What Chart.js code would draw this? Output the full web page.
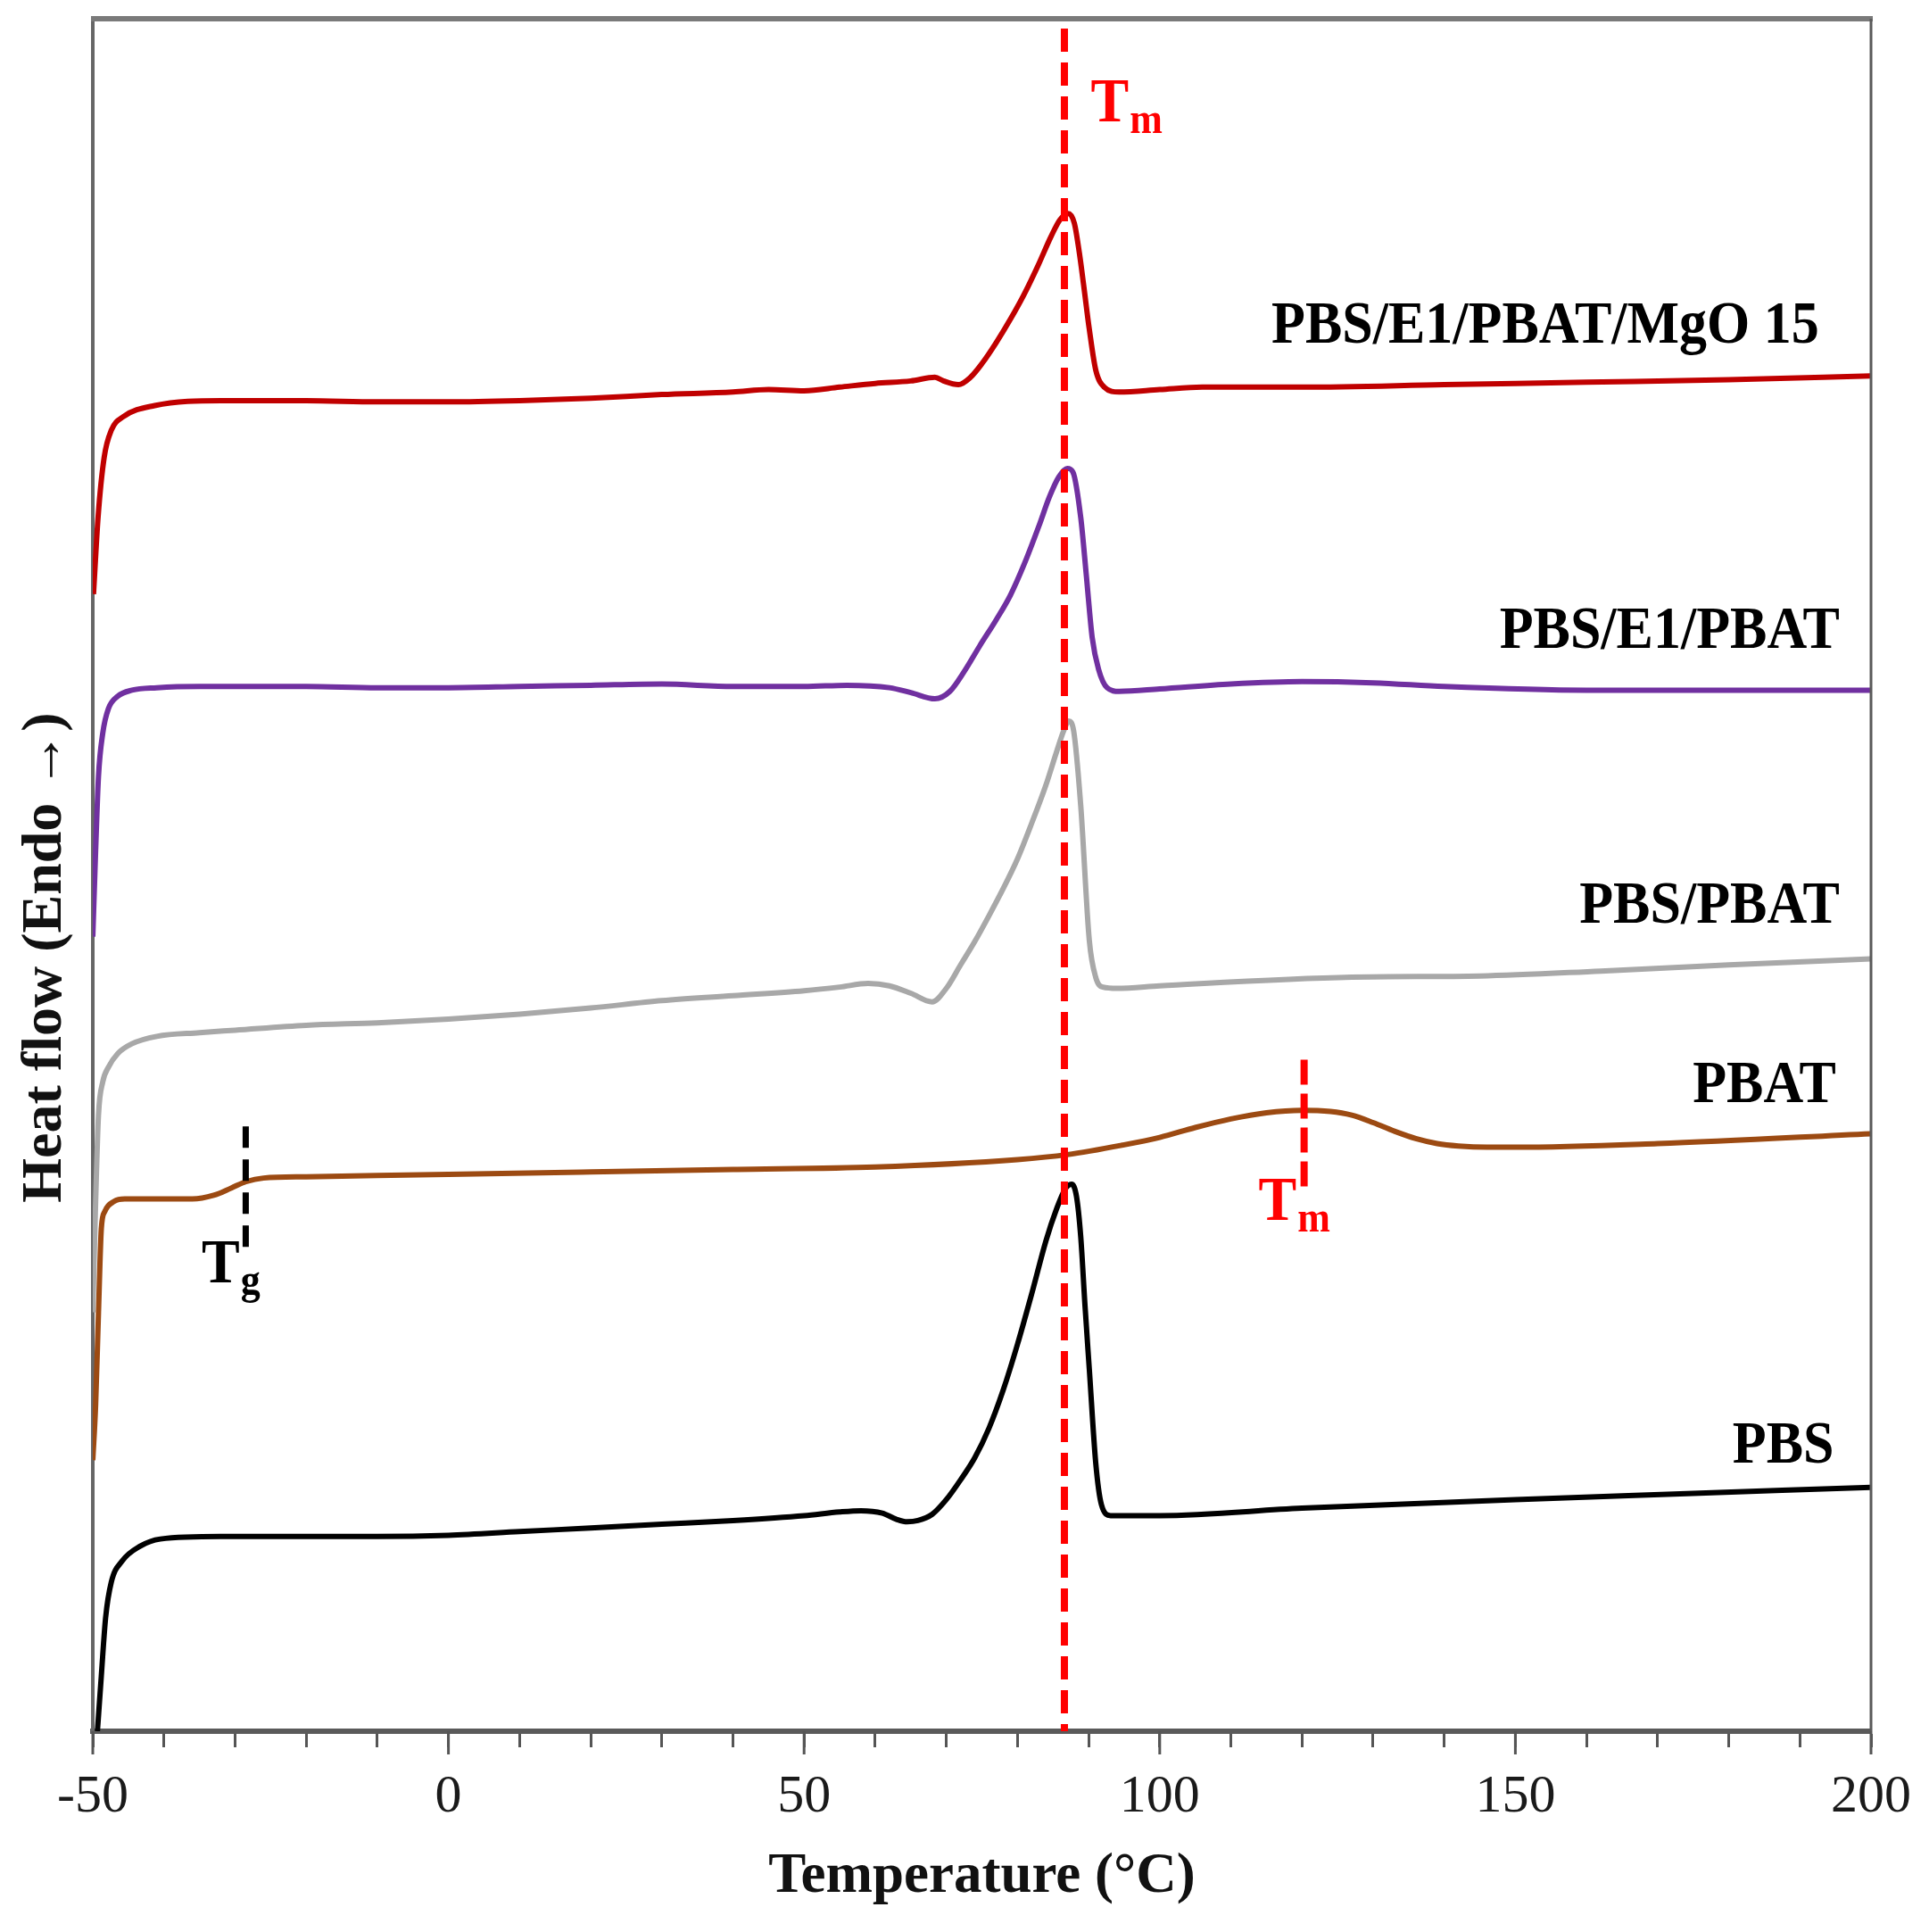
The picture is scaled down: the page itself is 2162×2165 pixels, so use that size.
<!DOCTYPE html>
<html>
<head>
<meta charset="utf-8">
<script src="https://cdn.jsdelivr.net/npm/chart.js@4.4.1/dist/chart.umd.min.js"></script>
<style>
  html, body { margin: 0; padding: 0; background: #ffffff; }
  canvas { display: block; }
</style>
</head>
<body>
<canvas id="dscChart" width="2162" height="2165"></canvas>
<script>
// DSC heating curves, heat flow in arbitrary units (curves shifted vertically)
const seriesNames = ['PBS', 'PBAT', 'PBS/PBAT', 'PBS/E1/PBAT', 'PBS/E1/PBAT/MgO 15'];
const seriesColors = ['#000000', '#9c4a12', '#a8a8a8', '#7030a0', '#c00000'];

const pbsTemp = [-49.35, -48.8, -48.2, -47.4, -45.9, -43.4, -40.5, -32, -20, -10, 0, 10, 20, 30, 40, 50, 55, 58, 61, 63, 64.5, 66, 68, 70, 72, 74, 76, 78, 80, 82, 84, 85.5, 86.7, 87.6, 88.3, 88.9, 89.5, 90.1, 91, 91.8, 93.1, 96, 100, 120, 150, 175, 200];
const pbsHeat = [0, 45, 92, 121, 138, 150, 156, 158, 158, 158, 159, 162, 165, 168, 171, 175, 178, 179, 177, 172, 170, 171, 176, 188, 204, 222, 246, 277, 314, 355, 398, 424, 440, 444, 434, 401, 345, 294, 218, 184, 175, 175, 175, 181, 188, 193, 198];

const pbatTemp = [-50, -49.6, -49.2, -48.8, -48.3, -47, -45.5, -40, -36, -33, -30.5, -28.5, -26, -20, -10, 0, 20, 40, 60, 80, 87, 95, 100, 105, 110, 115, 120, 124, 127, 130, 133, 136, 139, 142, 146, 150, 170, 200];
const pbatHeat = [220, 265, 340, 408, 422, 430, 432, 432, 432, 435, 441, 446, 449, 450, 451, 452, 454, 456, 458, 464, 468, 476, 482, 490, 497, 502, 504, 503, 500, 494, 487, 481, 477, 475, 474, 474, 477, 485];

const pbsPbatTemp = [-50, -49.6, -49.2, -48.6, -47.8, -46.5, -44.5, -41, -35, -30, -20, -10, 0, 10, 20, 30, 40, 50, 55, 59, 62, 65, 68, 70, 72, 74, 76, 78, 80, 82, 84, 85.5, 86.5, 87.2, 87.9, 88.9, 90.1, 91, 92, 94, 100, 127, 145, 162, 180, 200];
const pbsPbatHeat = [340, 430, 500, 527, 539, 550, 558, 564, 567, 569, 573, 575, 578, 582, 587, 593, 597, 601, 604, 607, 605, 599, 592, 603, 622, 641, 662, 684, 708, 737, 768, 795, 812, 820, 812, 751, 642, 612, 604, 603, 605, 612, 613, 617, 622, 627];

const e1Temp = [-50, -49.6, -49.2, -48.6, -47.8, -46.5, -44.5, -41, -35, -20, -10, 0, 10, 20, 30, 40, 50, 56, 62, 65, 68.4, 70.5, 72.5, 74.7, 77, 79, 81, 83, 84.5, 85.8, 87, 87.8, 88.9, 89.7, 90.5, 91.4, 92.6, 94.3, 100, 110, 120, 130, 140, 160, 200];
const e1Heat = [645, 715, 775, 810, 830, 840, 845, 847, 848, 848, 847, 847, 848, 849, 850, 848, 848, 849, 847, 843, 838, 844, 860, 881, 902, 922, 948, 978, 1002, 1018, 1025, 1022, 985, 937, 888, 862, 847, 844, 846, 850, 852, 851, 848, 845, 845];

const mgoTemp = [-49.9, -49.25, -48.4, -47.4, -45.7, -41.3, -32, -20, -10, 0, 10, 20, 30, 40, 45, 50, 55, 60, 65, 68.4, 69.6, 71.7, 73.4, 75, 77, 79, 81, 83, 84.7, 86, 87.1, 88, 88.7, 89.3, 90.1, 91, 92.2, 94.3, 100, 106, 120, 140, 160, 180, 200];
const mgoHeat = [923, 986, 1034, 1056, 1067, 1076, 1080, 1080, 1079, 1079, 1080, 1082, 1085, 1087, 1089, 1088, 1091, 1094, 1096, 1099, 1096, 1093, 1099, 1110, 1127, 1146, 1167, 1191, 1213, 1227, 1232, 1224, 1200, 1174, 1138, 1105, 1091, 1087, 1089, 1091, 1091, 1093, 1095, 1097, 1100];

// curve labels: right end temperature and baseline heat flow
const labelTemp = [194.8, 195.1, 195.6, 195.6, 192.7];
const labelHeat = [218, 511, 656, 879, 1127];

// transition markers
const tmTemp = 86.6;          // melting of PBS phase
const tmPbatTemp = 120.3;     // melting of PBAT
const tgPbatTemp = -28.5;     // glass transition of PBAT
const tmLineHeat = [1382, 0];
const tmPbatLineHeat = [545, 442];
const tgLineHeat = [491, 388];
// marker text anchors (temperature, heat flow)
const tmTextPos = [90.3, 1307];
const tmPbatTextPos = [113.9, 415];
const tgTextPos = [-34.7, 364];

const xTicks = [-50, 0, 50, 100, 150, 200];

const serif = "'Liberation Serif', 'Times New Roman', serif";

const curveTemps = [pbsTemp, pbatTemp, pbsPbatTemp, e1Temp, mgoTemp];
const curveHeats = [pbsHeat, pbatHeat, pbsPbatHeat, e1Heat, mgoHeat];

function toPoints(temps, heats) {
  return temps.map((t, i) => ({ x: t, y: heats[i] }));
}

const datasets = [];
// dashed marker lines first so they sit on top
datasets.push({ data: toPoints([tmTemp, tmTemp], tmLineHeat), borderColor: '#ff0000', borderWidth: 8, borderDash: [26, 12], tension: 0, order: 0 });
datasets.push({ data: toPoints([tmPbatTemp, tmPbatTemp], tmPbatLineHeat), borderColor: '#ff0000', borderWidth: 8, borderDash: [28, 10], tension: 0, order: 0 });
datasets.push({ data: toPoints([tgPbatTemp, tgPbatTemp], tgLineHeat), borderColor: '#000000', borderWidth: 7, borderDash: [24, 13], tension: 0, order: 0 });

seriesNames.forEach((name, i) => {
  datasets.push({
    label: name,
    data: toPoints(curveTemps[i], curveHeats[i]),
    borderColor: seriesColors[i],
    borderWidth: 6,
    cubicInterpolationMode: 'monotone',
    order: 1
  });
});

function stretchText(ctx, text, x, y, font, color, align) {
  ctx.save();
  ctx.font = font;
  ctx.fillStyle = color;
  ctx.textAlign = align;
  ctx.textBaseline = 'alphabetic';
  ctx.translate(x, y);
  ctx.scale(1, 1.1);
  ctx.fillText(text, 0, 0);
  ctx.restore();
}

function subLabel(ctx, main, sub, x, y, color) {
  ctx.save();
  ctx.font = 'bold 64px ' + serif;
  const w = ctx.measureText(main).width;
  ctx.restore();
  stretchText(ctx, main, x, y, 'bold 64px ' + serif, color, 'left');
  stretchText(ctx, sub, x + w + 1, y + 13, 'bold 44px ' + serif, color, 'left');
}

const annotate = {
  id: 'annotate',
  afterDatasetsDraw(chart) {
    const ctx = chart.ctx;
    const xs = chart.scales.x, ys = chart.scales.y;
    const area = chart.chartArea;
    ctx.save();
    // top and right frame
    ctx.strokeStyle = '#7a7a7a';
    ctx.lineWidth = 6;
    ctx.beginPath();
    ctx.moveTo(area.left - 2, area.top);
    ctx.lineTo(area.right + 2, area.top);
    ctx.stroke();
    ctx.strokeStyle = '#5a5a5a';
    ctx.lineWidth = 3;
    ctx.beginPath();
    ctx.moveTo(area.right, area.top);
    ctx.lineTo(area.right, area.bottom);
    ctx.stroke();
    // longer marks at labelled ticks
    ctx.strokeStyle = '#555555';
    ctx.lineWidth = 3;
    xTicks.forEach(v => {
      const px = xs.getPixelForValue(v);
      ctx.beginPath();
      ctx.moveTo(px, area.bottom);
      ctx.lineTo(px, area.bottom + 26);
      ctx.stroke();
    });
    ctx.restore();

    seriesNames.forEach((name, i) => {
      stretchText(ctx, name, xs.getPixelForValue(labelTemp[i]), ys.getPixelForValue(labelHeat[i]), 'bold 62px ' + serif, '#000000', 'right');
    });

    subLabel(ctx, 'T', 'm', xs.getPixelForValue(tmTextPos[0]), ys.getPixelForValue(tmTextPos[1]), '#ff0000');
    subLabel(ctx, 'T', 'm', xs.getPixelForValue(tmPbatTextPos[0]), ys.getPixelForValue(tmPbatTextPos[1]), '#ff0000');
    subLabel(ctx, 'T', 'g', xs.getPixelForValue(tgTextPos[0]), ys.getPixelForValue(tgTextPos[1]), '#000000');

    // y axis title
    ctx.save();
    ctx.translate(51, 1073);
    ctx.rotate(-Math.PI / 2);
    ctx.font = 'bold 64px ' + serif;
    ctx.fillStyle = '#111111';
    ctx.textAlign = 'center';
    ctx.textBaseline = 'middle';
    ctx.fillText('Heat flow (Endo \u2192)', 0, 0);
    ctx.restore();
  }
};

Chart.defaults.font.family = serif;

const myChart = new Chart(document.getElementById('dscChart'), {
  type: 'line',
  data: { datasets: datasets },
  options: {
    responsive: false,
    devicePixelRatio: 1,
    animation: false,
    layout: { padding: { top: 21, right: 61, bottom: 0, left: 0 } },
    elements: { point: { radius: 0 }, line: { fill: false } },
    plugins: { legend: { display: false }, tooltip: { enabled: false } },
    scales: {
      x: {
        type: 'linear',
        min: -50,
        max: 200,
        afterFit: (scale) => { scale.height = 225; },
        ticks: {
          stepSize: 10,
          autoSkip: false,
          maxRotation: 0,
          padding: 20,
          color: '#1a1a1a',
          font: { size: 60 },
          callback: (v) => xTicks.includes(v) ? String(v) : ''
        },
        grid: { display: true, drawOnChartArea: false, drawTicks: true, tickLength: 18, tickWidth: 3, tickColor: '#555555' },
        border: { display: true, width: 6, color: '#5a5a5a' },
        title: { display: true, text: 'Temperature (\u00b0C)', color: '#111111', font: { size: 63, weight: 'bold' }, padding: { top: 0, bottom: 23 } }
      },
      y: {
        type: 'linear',
        min: 0,
        max: 1390,
        afterFit: (scale) => { scale.width = 104; },
        ticks: { display: false },
        grid: { display: false },
        border: { display: true, width: 4, color: '#666666' }
      }
    }
  },
  plugins: [annotate]
});
</script>
</body>
</html>
